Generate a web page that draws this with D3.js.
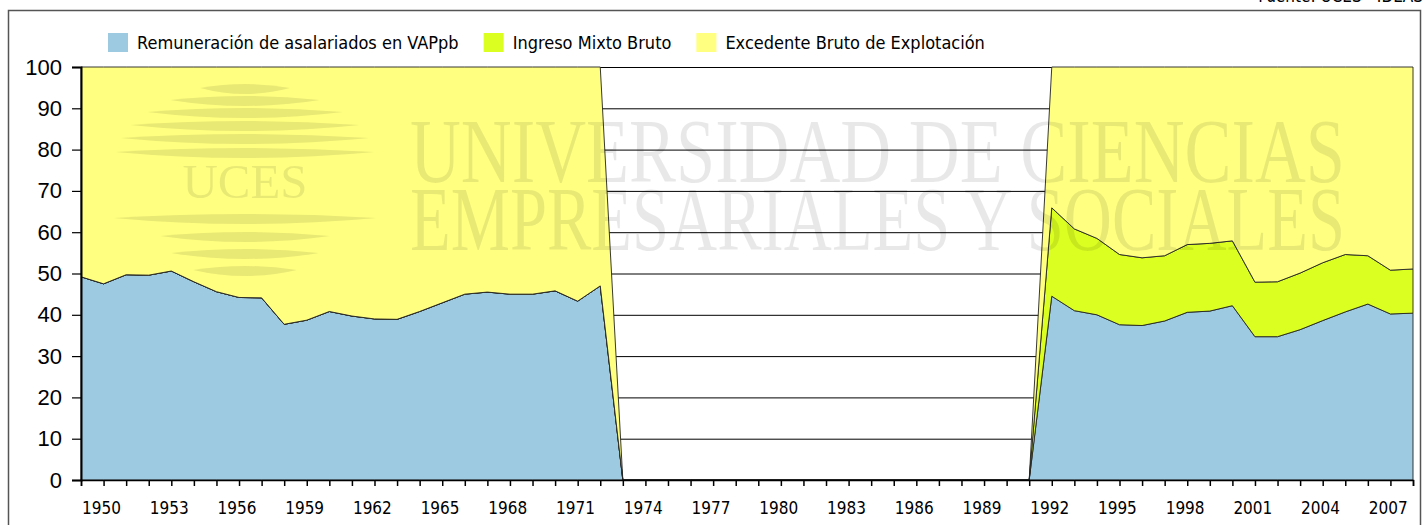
<!DOCTYPE html>
<html>
<head>
<meta charset="utf-8">
<script src="https://cdn.jsdelivr.net/npm/d3@7"></script>
<style>
  body { margin: 0; background: #fff; }
  svg { display: block; font-family: "DejaVu Sans Condensed", "DejaVu Sans", sans-serif; }
</style>
</head>
<body>
<script>
// años 1950-2009, valores en % del VAB
const years = d3.range(1950, 2010);

const remuneracion = [
  49.2, 47.5, 49.7, 49.6, 50.6, 48.0, 45.6, 44.2, 44.1, 37.7,
  38.7, 40.8, 39.7, 39.0, 38.9, 40.8, 42.9, 45.0, 45.5, 45.0,
  45.0, 45.8, 43.3, 47.0, 0, 0, 0, 0, 0, 0,
  0, 0, 0, 0, 0, 0, 0, 0, 0, 0,
  0, 0, 0, 44.5, 41.0, 40.0, 37.6, 37.4, 38.5, 40.6,
  40.9, 42.2, 34.7, 34.7, 36.4, 38.6, 40.7, 42.6, 40.2, 40.4
];

const ingresoMixto = [
  0, 0, 0, 0, 0, 0, 0, 0, 0, 0,
  0, 0, 0, 0, 0, 0, 0, 0, 0, 0,
  0, 0, 0, 0, 0, 0, 0, 0, 0, 0,
  0, 0, 0, 0, 0, 0, 0, 0, 0, 0,
  0, 0, 0, 21.4, 19.8, 18.5, 17.0, 16.4, 15.8, 16.4,
  16.4, 15.7, 13.2, 13.3, 13.7, 14.0, 13.9, 11.7, 10.6, 10.7
];

const excedente = [
  50.8, 52.5, 50.3, 50.4, 49.4, 52.0, 54.4, 55.8, 55.9, 62.3,
  61.3, 59.2, 60.3, 61.0, 61.1, 59.2, 57.1, 55.0, 54.5, 55.0,
  55.0, 54.2, 56.7, 53.0, 0, 0, 0, 0, 0, 0,
  0, 0, 0, 0, 0, 0, 0, 0, 0, 0,
  0, 0, 0, 34.1, 39.2, 41.5, 45.4, 46.2, 45.7, 43.0,
  42.7, 42.1, 52.1, 52.0, 49.9, 47.4, 45.4, 45.7, 49.2, 48.9
];

const seriesNames = ["Remuneración de asalariados en VAPpb", "Ingreso Mixto Bruto", "Excedente Bruto de Explotación"];
const seriesColors = ["#9dcae1", "#dcff22", "#ffff80"];
const yTicks = [0, 10, 20, 30, 40, 50, 60, 70, 80, 90, 100];
const labelYears = d3.range(1950, 2008, 3);

const W = 1423, H = 525;
const m = { left: 81, right: 1413, top: 67, bottom: 480 };

const table = years.map((yr, i) => ({
  year: yr, r: remuneracion[i], m: ingresoMixto[i], e: excedente[i]
}));

const svg = d3.select("body").append("svg")
  .attr("width", W)
  .attr("height", H);

// marco exterior
svg.append("rect")
  .attr("x", 8.5).attr("y", 10.5)
  .attr("width", 1412).attr("height", 530)
  .attr("fill", "none")
  .attr("stroke", "#555")
  .attr("stroke-width", 1.5);

svg.append("text")
  .attr("x", 1423).attr("y", 2)
  .attr("text-anchor", "end")
  .attr("font-size", 17)
  .text("Fuente: UCES - IDEAS");

const x = d3.scalePoint()
  .domain(years)
  .range([m.left, m.right]);

const y = d3.scaleLinear()
  .domain([0, 100])
  .range([m.bottom, m.top]);

// lineas de grilla
svg.append("g")
  .selectAll("line")
  .data(yTicks.filter(d => d > 0))
  .enter()
  .append("line")
  .attr("x1", m.left).attr("x2", m.right)
  .attr("y1", d => y(d) + 0.5).attr("y2", d => y(d) + 0.5)
  .attr("stroke", "#000")
  .attr("stroke-width", 1);

const stack = d3.stack().keys(["r", "m", "e"]);
const stacked = stack(table);

const area = d3.area()
  .x(d => x(d.data.year))
  .y0(d => y(d[0]))
  .y1(d => y(d[1]));

svg.append("g")
  .selectAll("path")
  .data(stacked)
  .enter()
  .append("path")
  .attr("d", area)
  .attr("fill", (d, i) => seriesColors[i])
  .attr("stroke", "#222")
  .attr("stroke-width", 0.9)
  .attr("stroke-linejoin", "round");

// marca de agua
const wm = svg.append("g").attr("fill", "#000").attr("fill-opacity", 0.09)
  .attr("pointer-events", "none");

wm.append("text")
  .attr("x", 410).attr("y", 182)
  .attr("font-family", "Liberation Serif, serif")
  .attr("font-size", 92)
  .attr("textLength", 935)
  .attr("lengthAdjust", "spacingAndGlyphs")
  .text("UNIVERSIDAD DE CIENCIAS");

wm.append("text")
  .attr("x", 410).attr("y", 250)
  .attr("font-family", "Liberation Serif, serif")
  .attr("font-size", 92)
  .attr("textLength", 935)
  .attr("lengthAdjust", "spacingAndGlyphs")
  .text("EMPRESARIALES Y SOCIALES");

// logo: franjas horizontales (posicion y media anchura)
const cx = 245;
const stripes = [[88, 45], [100, 75], [112, 98], [125, 115], [138, 125], [152, 130],
                 [218, 132], [236, 85], [253, 74], [270, 52]];
stripes.forEach(([yc, hw]) => {
  const t = 5;
  wm.append("path")
    .attr("d", `M${cx - hw},${yc} Q${cx},${yc - t * 1.6} ${cx + hw},${yc} Q${cx},${yc + t * 2.4} ${cx - hw},${yc} Z`);
});
wm.append("text")
  .attr("x", cx).attr("y", 198)
  .attr("text-anchor", "middle")
  .attr("font-family", "Liberation Serif, serif")
  .attr("font-size", 48)
  .attr("textLength", 125)
  .attr("lengthAdjust", "spacingAndGlyphs")
  .text("UCES");

// ejes
const yAxis = d3.axisLeft(y).tickValues(yTicks).tickSize(9).tickPadding(10);
const gy = svg.append("g")
  .attr("transform", `translate(${m.left},0)`)
  .call(yAxis);
gy.select(".domain").attr("stroke", "#000").attr("stroke-width", 2);
gy.selectAll(".tick line").attr("stroke", "#000").attr("stroke-width", 1.2);
gy.selectAll("text").attr("font-size", 22).attr("fill", "#000");

const xAxis = d3.axisBottom(x).tickValues(years).tickSize(6).tickFormat("");
const gx = svg.append("g")
  .attr("transform", `translate(0,${m.bottom})`)
  .call(xAxis);
gx.select(".domain").attr("stroke", "#000").attr("stroke-width", 1.5);
gx.selectAll(".tick line").attr("stroke", "#000").attr("stroke-width", 1.5);

svg.append("g")
  .selectAll("text")
  .data(labelYears)
  .enter()
  .append("text")
  .attr("x", d => x(d) + 1)
  .attr("y", 514)
  .attr("font-size", 17)
  .attr("fill", "#000")
  .text(d => d);

// leyenda
const leg = svg.append("g");
let lx = 108;
seriesNames.forEach((name, i) => {
  leg.append("rect")
    .attr("x", lx).attr("y", 33)
    .attr("width", 20).attr("height", 19)
    .attr("fill", seriesColors[i]);
  const t = leg.append("text")
    .attr("x", lx + 29).attr("y", 49)
    .attr("font-size", 18)
    .attr("fill", "#000")
    .text(name);
  lx = lx + 29 + t.node().getComputedTextLength() + 25;
});
</script>
</body>
</html>
